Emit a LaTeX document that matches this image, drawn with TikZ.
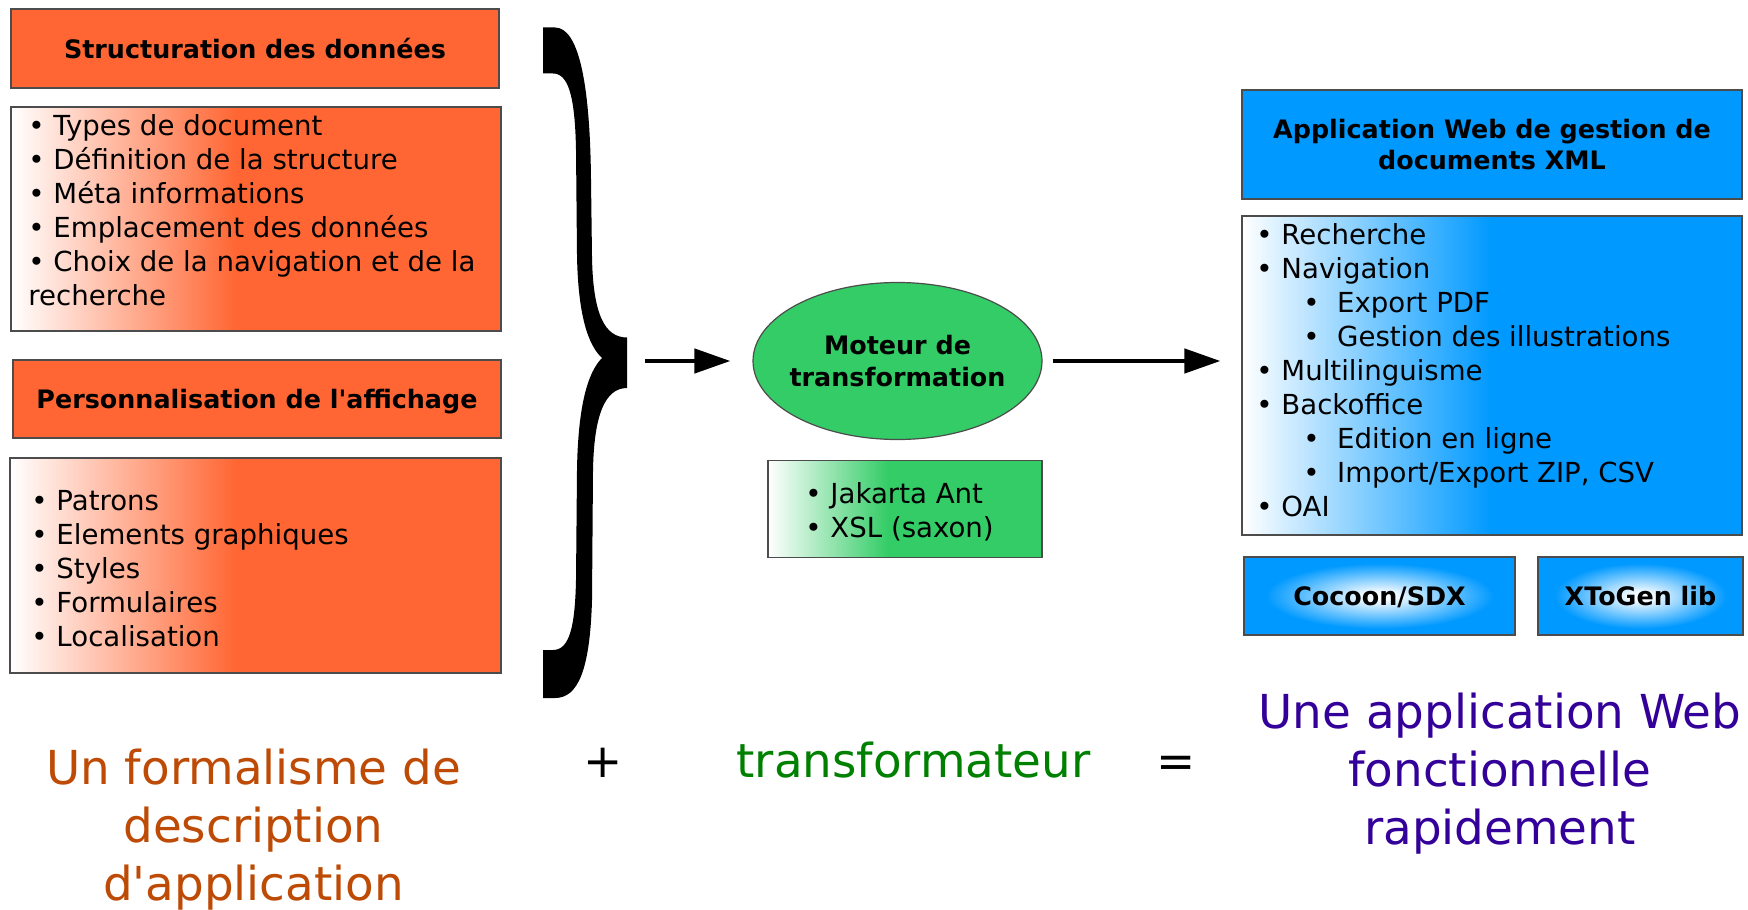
\documentclass[tikz,border=0pt]{standalone}
\usepackage{fontspec}
\setmainfont{DejaVu Sans}[Ligatures=TeXOff]
\usetikzlibrary{shapes.geometric,arrows.meta}

\definecolor{orangebox}{RGB}{255,102,51}
\definecolor{bleubox}{RGB}{0,153,255}
\definecolor{vertbox}{RGB}{51,204,102}
\definecolor{textorange}{RGB}{190,75,5}
\definecolor{textvert}{RGB}{0,128,0}
\definecolor{textindigo}{RGB}{51,0,153}

\pgfdeclarehorizontalshading{fadeorange}{100bp}{color(0bp)=(white); color(25bp)=(white); color(48bp)=(orangebox); color(100bp)=(orangebox)}
\pgfdeclarehorizontalshading{fadebleu}{100bp}{color(0bp)=(white); color(25bp)=(white); color(50bp)=(bleubox); color(100bp)=(bleubox)}
\pgfdeclarehorizontalshading{fadevert}{100bp}{color(0bp)=(white); color(25bp)=(white); color(47bp)=(vertbox); color(100bp)=(vertbox)}
\pgfdeclareradialshading{halobleu}{\pgfpointorigin}{color(0bp)=(white); color(3bp)=(white!95!bleubox); color(21bp)=(bleubox); color(50bp)=(bleubox)}

\newcommand\sous{\hspace*{1.7em}•\ \ }

\tikzset{
  boite/.style={draw=black!70, line width=0.6pt, inner sep=0pt},
  titre/.style={boite, text depth=0pt, align=center, font=\fontsize{12.7}{15.75}\selectfont\bfseries},
  liste/.style={inner sep=0pt, anchor=north west, align=left, font=\fontsize{13.8}{17}\selectfont},
  grand/.style={inner sep=0pt, align=center, font=\fontsize{23.4}{29}\selectfont},
  fleche/.style={line width=2.2pt, -{Triangle[length=18pt,width=12pt]}},
}

\begin{document}
\begin{tikzpicture}[x=0.5pt, y=-0.5pt]
\useasboundingbox (0,0) rectangle (1748,909);

% formalisme
\node[titre, fill=orangebox, minimum width=244pt, minimum height=39.5pt] (structuration) at (255,48.5) {Structuration des données};
\node[boite, shading=fadeorange, minimum width=245pt, minimum height=112pt] (cadreStruct) at (256,219) {};
\node[liste] (listeStruct) at (28,114) {• Types de document\\• Définition de la structure\\• Méta informations\\• Emplacement des données\\• Choix de la navigation et de la\\recherche};

\node[titre, fill=orangebox, minimum width=244pt, minimum height=39pt] (perso) at (257,399) {Personnalisation de l'affichage};
\node[boite, shading=fadeorange, minimum width=245.5pt, minimum height=107.5pt] (cadrePerso) at (255.5,565.5) {};
\node[liste] (listePerso) at (31,490) {• Patrons\\• Elements graphiques\\• Styles\\• Formulaires\\• Localisation};

% accolade
\fill[black] (543,27.5) -- (555,27.5)
  .. controls (578,27.5) and (590,80) .. (591,180)
  -- (592,257)
  .. controls (593,315) and (605,337.5) .. (627,337.5)
  -- (627,388)
  .. controls (605,388) and (594,415) .. (593,470)
  -- (592,600)
  .. controls (590,670) and (578,698) .. (555,698)
  -- (543,698) -- (543,650) -- (553,650)
  .. controls (570,650) and (575,625) .. (576,580)
  -- (577,470)
  .. controls (578,405) and (588,372) .. (602,358)
  .. controls (588,345) and (578,315) .. (577,255)
  -- (576,150)
  .. controls (575,95) and (568,73.5) .. (553,73.5)
  -- (543,73.5) -- cycle;
\coordinate (pointe) at (627,361);

% transformateur
\node[ellipse, draw=black!70, line width=0.6pt, fill=vertbox, minimum width=144.5pt, minimum height=78.5pt, inner xsep=-4pt, inner ysep=0pt, align=center, font=\fontsize{12.7}{15.75}\selectfont\bfseries] (moteur) at (897.5,361) {Moteur de\\transformation};
\node[boite, shading=fadevert, minimum width=137pt, minimum height=48.75pt] (cadreOutils) at (905,509) {};
\node[liste] (listeOutils) at (805,482) {• Jakarta Ant\\• XSL (saxon)};

% application
\node[titre, fill=bleubox, minimum width=250pt, minimum height=54.5pt] (appli) at (1492,144.5) {Application Web de gestion de\\documents XML};
\node[boite, shading=fadebleu, minimum width=250pt, minimum height=159.5pt] (cadreFonct) at (1492,375.5) {};
\node[liste] (listeFonct) at (1256,223) {• Recherche\\• Navigation\\\sous Export PDF\\\sous Gestion des illustrations\\• Multilinguisme\\• Backoffice\\\sous Edition en ligne\\\sous Import/Export ZIP, CSV\\• OAI};
\node[titre, shading=halobleu, minimum width=135.5pt, minimum height=39pt] (cocoon) at (1379.5,596) {Cocoon/SDX};
\node[titre, shading=halobleu, minimum width=102.5pt, minimum height=39pt] (xtogen) at (1640.5,596) {XToGen lib};

\draw[fleche, shorten <=9pt, shorten >=11pt] (pointe) -- (moteur);
\draw[fleche, shorten <=5pt, shorten >=10.5pt] (moteur.east) -- (moteur.east -| cadreFonct.west);

% equation
\node[grand, text=textorange, anchor=north] (formalisme) at (253.5,749) {Un formalisme de\\description\\d'application};
\node[grand, anchor=base] (plus) at (603,777) {+};
\node[grand, text=textvert, anchor=base] (transfo) at (913.5,777) {transformateur};
\node[grand, anchor=base] (egal) at (1176,777) {=};
\node[grand, text=textindigo, anchor=north] (resultat) at (1500,693) {Une application Web\\fonctionnelle\\rapidement};
\end{tikzpicture}
\end{document}
